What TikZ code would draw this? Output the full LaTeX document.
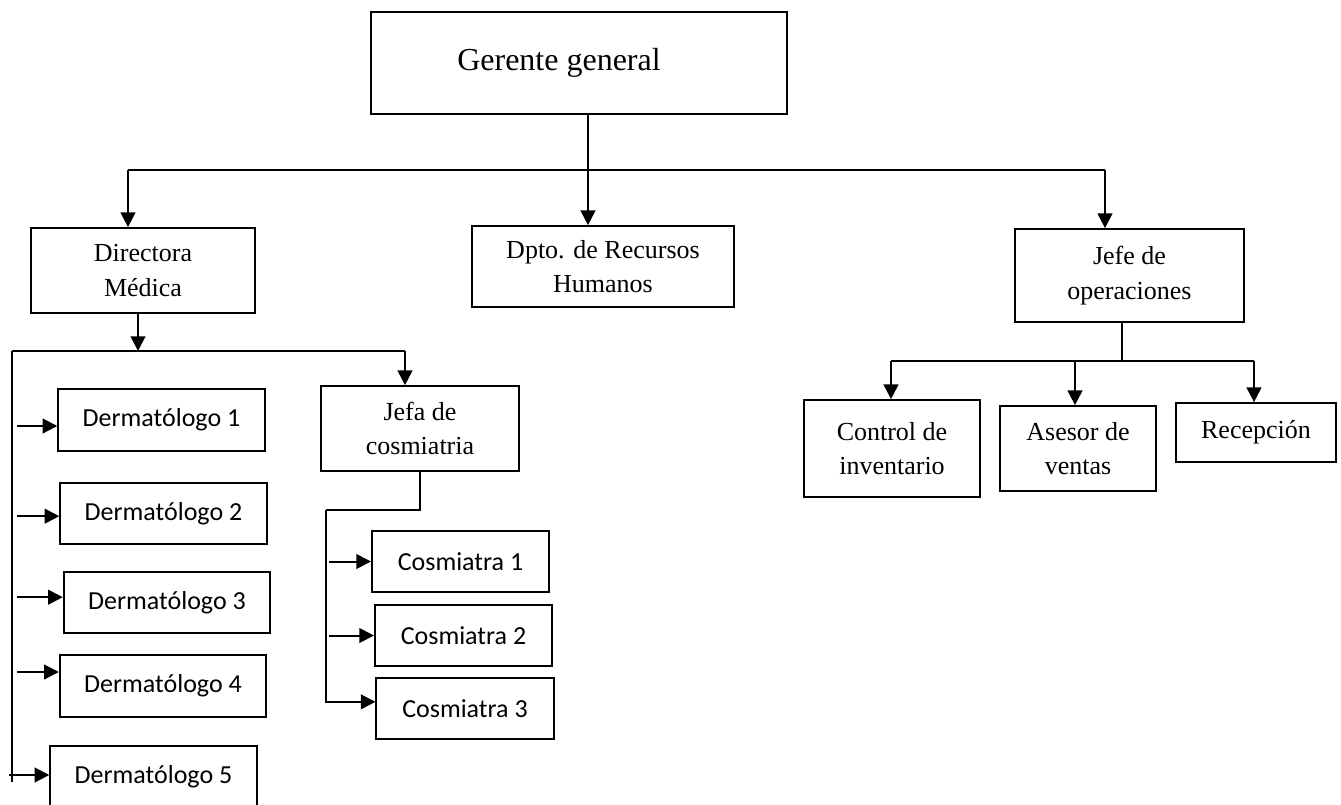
\documentclass[tikz,border=0pt]{standalone}
\usepackage{fontspec}
\setmainfont{Liberation Serif}
\newfontfamily\calibri{Carlito}
\usetikzlibrary{arrows.meta}

\begin{document}
\begin{tikzpicture}[x=0.75pt,y=-0.75pt,
    box/.style={draw,line width=1.3pt,align=center,inner sep=0pt,
      font=\fontsize{19.5}{26}\selectfont},
    dbox/.style={box,minimum width=155pt,minimum height=46pt,
      font=\calibri\fontsize{19.5}{26}\selectfont},
    cbox/.style={dbox,minimum width=133pt},
    line/.style={line width=1.5pt},
    arr/.style={line width=1.5pt,-{Triangle[length=11pt,width=11pt]}}]
    \useasboundingbox (0,0) rectangle (1341,804);
    %% boxes
    \node[box,minimum width=312pt,minimum height=76.5pt,font=\fontsize{24}{28}\selectfont]
      (gerente) at (579,63) {Gerente general\hspace*{30pt}};
    \node[box,minimum width=168pt,minimum height=63.75pt] (directora) at (143,270.5) {Directora\\M\'edica};
    \node[box,minimum width=196.5pt,minimum height=60.75pt] (rrhh) at (603,266.5) {Dpto. de Recursos\\Humanos};
    \node[box,minimum width=171.75pt,minimum height=69.75pt] (jefeop) at (1129.5,275.5) {Jefe de\\operaciones};
    \node[box,minimum width=148.5pt,minimum height=63.75pt] (jefacos) at (420,428.5) {Jefa de\\cosmiatria};
    \node[dbox] (derm1) at (161.5,420) {Dermat\'ologo 1};
    \node[dbox] (derm2) at (163.5,513.5) {Dermat\'ologo 2};
    \node[dbox] (derm3) at (167,602.5) {Dermat\'ologo 3};
    \node[dbox] (derm4) at (163,686) {Dermat\'ologo 4};
    \node[dbox] (derm5) at (153.5,777) {Dermat\'ologo 5};
    \node[cbox] (cosm1) at (460.5,561.5) {Cosmiatra 1};
    \node[cbox] (cosm2) at (463.5,635.5) {Cosmiatra 2};
    \node[cbox] (cosm3) at (465,708.5) {Cosmiatra 3};
    \node[box,minimum width=132pt,minimum height=72.75pt] (control) at (892,448.5) {Control de\\inventario};
    \node[box,minimum width=117pt,minimum height=63.75pt] (asesor) at (1078,448.5) {Asesor de\\ventas};
    \node[box,minimum width=120pt,minimum height=44.25pt] (recepcion) at (1256,432.5) {Recepci\'on};
    %% first level
    \coordinate (b1) at (128,170);
    \coordinate (gm) at (588,170);
    \coordinate (b3) at (1105,170);
    \draw[line] (gerente.south -| gm) -- (gm);
    \draw[line] (b1) -- (b3);
    \draw[arr] (b1) -- (directora.north -| b1);
    \draw[arr] (gm) -- (rrhh.north -| gm);
    \draw[arr] (b3) -- (jefeop.north -| b3);
    %% directora medica
    \coordinate (dm) at (138,351);
    \coordinate (dl) at (12,351);
    \coordinate (dr) at (405,351);
    \coordinate (dv) at (17,0);
    \draw[arr] (directora.south -| dm) -- (dm);
    \draw[line] (dl) -- (dr);
    \draw[line] (dl) -- ([yshift=-4pt]dl |- derm5.west);
    \draw[arr] (dr) -- (jefacos.north -| dr);
    \foreach \n/\dy in {1/-4.5,2/-2,3/4,4/10.5}
      \draw[arr] ([yshift=\dy pt]dv |- derm\n.west) -- ([yshift=\dy pt]derm\n.west);
    \draw[arr] ([xshift=-2pt,yshift=1.5pt]dl |- derm5.west) -- ([yshift=1.5pt]derm5.west);
    %% cosmiatria
    \coordinate (jc) at (326,510);
    \coordinate (cv) at (329,0);
    \draw[line] (jefacos.south) -- (jefacos.south |- jc) -- (jc);
    \draw[arr] (jc) |- ([yshift=5pt]cosm3.west);
    \foreach \n in {1,2}
      \draw[arr] (cv |- cosm\n.west) -- (cosm\n.west);
    %% operaciones
    \coordinate (om) at (1122,361);
    \coordinate (ol) at (891,361);
    \coordinate (oa) at (1075,361);
    \coordinate (or) at (1254,361);
    \draw[line] (jefeop.south -| om) -- (om);
    \draw[line] (ol) -- (or);
    \draw[arr] (ol) -- (control.north -| ol);
    \draw[arr] (oa) -- (asesor.north -| oa);
    \draw[arr] (or) -- (recepcion.north -| or);
\end{tikzpicture}
\end{document}
